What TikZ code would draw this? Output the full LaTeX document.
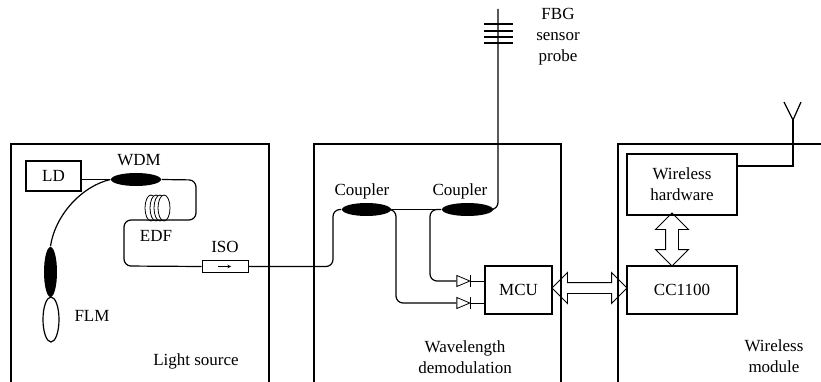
\documentclass[tikz,border=0pt]{standalone}
\usepackage{fontspec}
\setmainfont{Liberation Serif}
\usetikzlibrary{shapes.geometric,shapes.arrows}

\begin{document}
\begin{tikzpicture}[x=1pt, y=-1pt, line width=1.2pt]
        \tikzstyle{every node}=[font=\fontsize{17}{21}\selectfont, align=center, inner sep=0pt]
        \tikzstyle{box}=[draw, rectangle]
        \tikzstyle{coupler}=[ellipse, fill=black, minimum width=50pt, minimum height=13pt]
        \tikzstyle{fiber}=[rounded corners=7pt]
        \tikzstyle{diode}=[draw, line width=0.8pt, isosceles triangle, isosceles triangle stretches, minimum width=11pt, minimum height=13pt]
        \tikzstyle{link}=[draw, double arrow, double arrow head extend=10pt, inner xsep=0pt, line width=0.9pt]
        \useasboundingbox (0,0) rectangle (821,382);
        \draw (11,382) |- (269,144) -- (269,382);
        \draw (314,382) |- (561,144) -- (561,382);
        \draw (618,382) |- (821,144);
        \node [box, minimum width=55pt, minimum height=30pt] (ld) at (53.5,176) {LD};
        \node [coupler] (wdm) at (136,179.5) {};
        \node [coupler, minimum width=13pt, minimum height=50pt] (flmc) at (50.5,272) {};
        \node [draw, ellipse, minimum width=16pt, minimum height=45pt] (flm) at (51,319.5) {};
        \foreach \x in {151,156,160,164} {\node [draw, ellipse, fill=white, line width=0.8pt, minimum width=12pt, minimum height=26pt] at (\x,208) {};}
        \node [box, line width=0.9pt, minimum width=46pt, minimum height=12pt] (iso) at (225,266.5) {};
        \node [coupler, minimum width=49pt] (cpa) at (366.5,209.5) {};
        \node [coupler, minimum width=51pt] (cpb) at (467.5,209.5) {};
        \node [box, minimum width=67pt, minimum height=48pt] (mcu) at (518.5,290) {MCU};
        \node [box, minimum width=110pt, minimum height=61pt] (hw) at (682,184.5) {Wireless\\hardware};
        \node [box, minimum width=110pt, minimum height=48pt] (cc) at (682,290) {CC1100};
        \node [diode] (da) at (460.5,281) {};
        \node [diode] (db) at (460.5,303) {};
        \coordinate (top) at (498,9);
        \coordinate (ant) at (793,120);
        \draw (ld.east |- wdm.west) -- (wdm.west);
        \draw (wdm.west) .. controls (82,186) and (55,215) .. (flmc.north);
        \draw [fiber] (wdm.east) -- (196,180) -- (196,220) -- (124,220) -- (124,266) -- (iso.west);
        \draw [line width=0.6pt, -stealth] (218,266.5) -- (231,266.5);
        \draw [fiber] (iso.east) -- (333,266.5) -- (333,209.5) -- (cpa.west);
        \draw (cpa.east) -- (cpb.west);
        \draw [fiber] (cpb.east) -- (498,209.5) -- (top);
        \foreach \y in {24,31,37,43} {\draw (484,\y) -- (513,\y);}
        \draw [fiber] (cpb.west) -- (430,209.5) -- (430,281) -- (da.west);
        \draw [fiber] (cpa.east) -- (396,209.5) -- (396,303) -- (db.west);
        \draw [line width=0.9pt] (da.apex) -- (mcu.west |- da.apex);
        \draw [line width=0.9pt] (db.apex) -- (mcu.west |- db.apex);
        \draw [line width=0.9pt] ([yshift=-6pt]da.apex) -- ([yshift=6pt]da.apex);
        \draw [line width=0.9pt] ([yshift=-6pt]db.apex) -- ([yshift=6pt]db.apex);
        \draw (hw.east |- 0,166) -| (ant);
        \draw (784,102) -- (ant) -- (801,102);
        \node [link, inner ysep=5pt, minimum width=29pt, minimum height=75pt] (mcucc) at (589.5,288) {};
        \node [link, rotate=90, inner ysep=6pt, minimum width=28pt, minimum height=53pt] (hwcc) at (672,239.5) {};
        \node (wdml) at (139,160) {WDM};
        \node (edfl) at (156,236) {EDF};
        \node (isol) at (225,247) {ISO};
        \node (flml) at (92,316) {FLM};
        \node (lightl) at (196,361) {Light source};
        \node (cpal) at (362,191) {Coupler};
        \node (cpbl) at (460,191) {Coupler};
        \node (wavel) at (465,357) {Wavelength\\demodulation};
        \node (wirel) at (774,356) {Wireless\\module};
        \node (fbgl) at (558,37) {FBG\\sensor\\probe};
\end{tikzpicture}
\end{document}
